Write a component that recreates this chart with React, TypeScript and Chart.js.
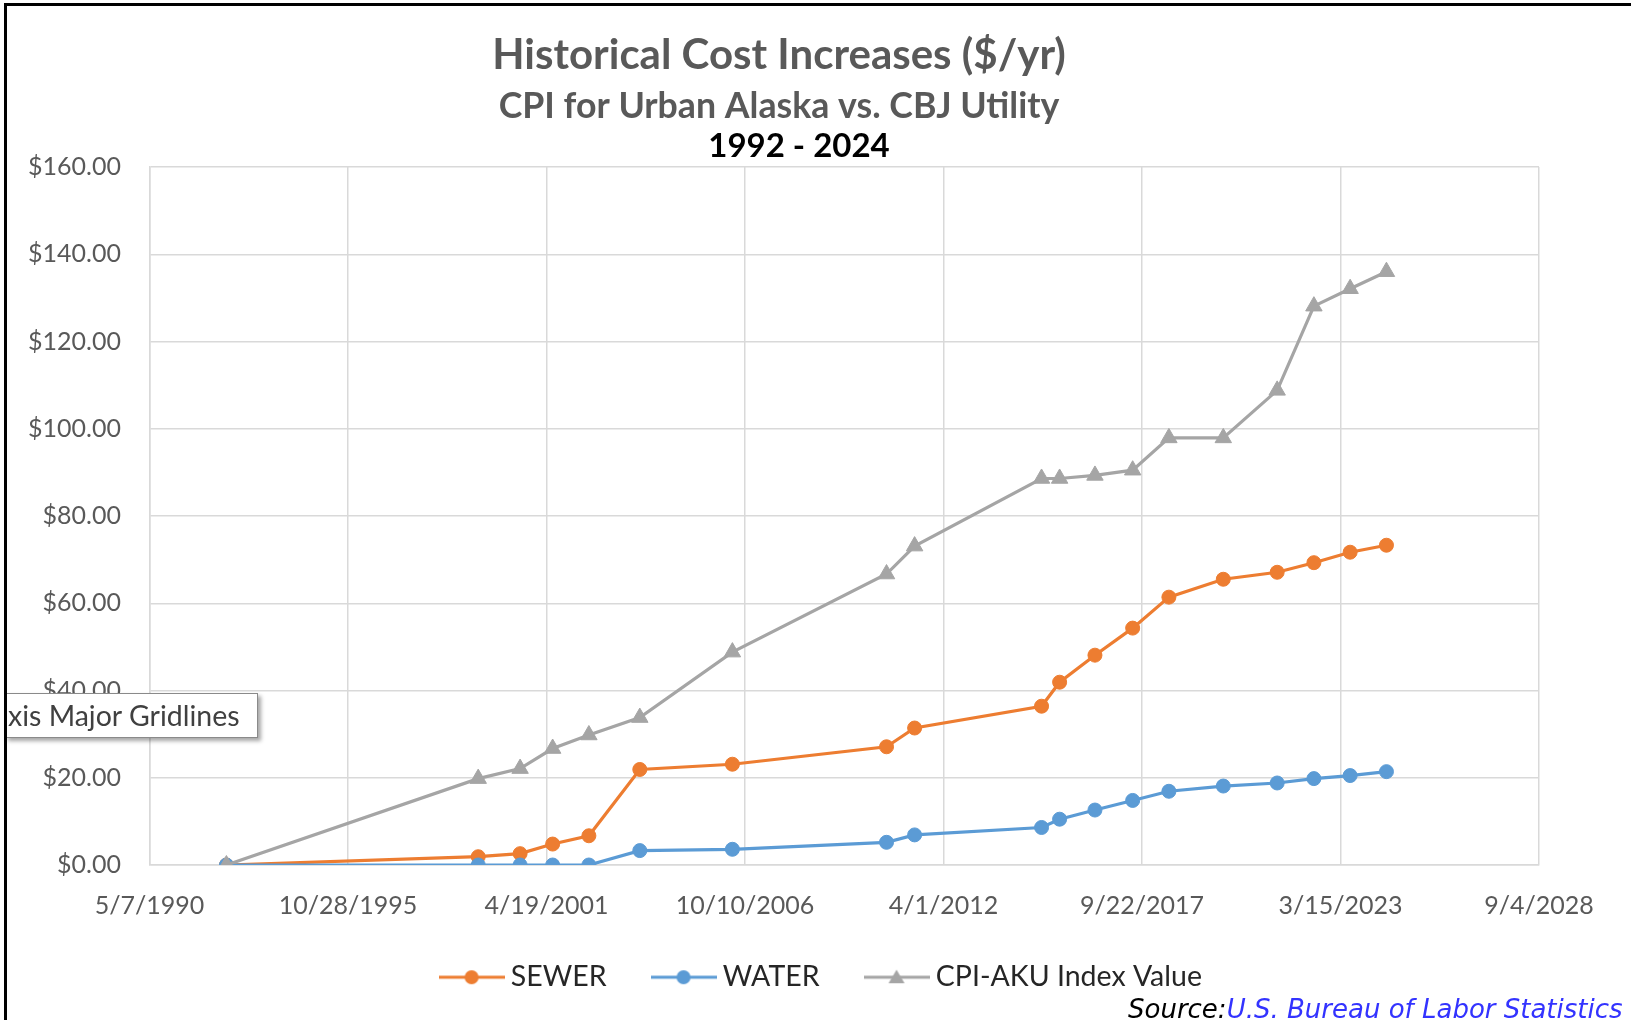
import React, { useEffect, useRef } from "react";
import { Chart, registerables } from "chart.js";

Chart.register(...registerables);

// ---- data ----
const dates = [
  "1992-06-20", "1999-06-01", "2000-07-27", "2001-06-20", "2002-06-20",
  "2003-11-15", "2006-06-05", "2010-09-05", "2011-06-15", "2014-12-15",
  "2015-06-15", "2016-06-05", "2017-06-20", "2018-06-20", "2019-12-20",
  "2021-06-15", "2022-06-20", "2023-06-20", "2024-06-20",
];
const sewer = [0, 1.9, 2.6, 4.8, 6.7, 21.9, 23.1, 27.1, 31.4, 36.4, 41.9, 48.1, 54.3, 61.4, 65.5, 67.1, 69.3, 71.7, 73.3];
const water = [0, 0, 0, 0, 0, 3.3, 3.6, 5.2, 6.9, 8.6, 10.5, 12.6, 14.8, 16.9, 18.1, 18.8, 19.8, 20.5, 21.4];
const cpi = [0, 19.8, 22.1, 26.7, 29.8, 33.8, 48.8, 66.7, 73.1, 88.6, 88.6, 89.3, 90.5, 97.9, 97.9, 108.8, 128.1, 132.1, 136.0];
const seriesNames = ["SEWER", "WATER", "CPI-AKU Index Value"];
const xAxisRange = { min: 33000, max: 47000, step: 2000 }; // Excel serial dates
const yAxisRange = { min: 0, max: 160, step: 20 };
const titleLines = ["Historical Cost Increases ($/yr)", "CPI for Urban Alaska vs. CBJ Utility", "1992 - 2024"];
const sourceLabel = "Source:";
const sourceText = "U.S. Bureau of Labor Statistics";
const hoverTip = "xis Major Gridlines";

const EXCEL_EPOCH = Date.UTC(1899, 11, 30);
function toSerial(s: string): number {
  const [y, m, d] = s.split("-").map(Number);
  return (Date.UTC(y, m - 1, d) - EXCEL_EPOCH) / 86400000;
}
function serialToLabel(v: number): string {
  const dt = new Date(EXCEL_EPOCH + v * 86400000);
  return `${dt.getUTCMonth() + 1}/${dt.getUTCDate()}/${dt.getUTCFullYear()}`;
}

const COLORS = ["#ED7D31", "#5B9BD5", "#A5A5A5"];
const STYLES = ["circle", "circle", "triangle"];

function makeIcon(color: string, style: string): HTMLCanvasElement {
  const c = document.createElement("canvas");
  c.width = 66;
  c.height = 20;
  const g = c.getContext("2d")!;
  g.strokeStyle = color;
  g.lineWidth = 3;
  g.beginPath();
  g.moveTo(0, 10);
  g.lineTo(66, 10);
  g.stroke();
  g.fillStyle = color;
  g.beginPath();
  if (style === "circle") {
    g.arc(33, 10, 7, 0, Math.PI * 2);
  } else {
    g.moveTo(33, 2.5);
    g.lineTo(41, 16);
    g.lineTo(25, 16);
    g.closePath();
  }
  g.fill();
  return c;
}

const textPlugin = {
  id: "excelTexts",
  afterDraw(chart: any) {
    const ctx = chart.ctx as CanvasRenderingContext2D;
    ctx.save();
    ctx.textAlign = "center";
    ctx.textBaseline = "middle";
    ctx.fillStyle = "#595959";
    ctx.font = "bold 42px Lato";
    ctx.fillText(titleLines[0], 779, 55);
    ctx.font = "bold 35.7px Lato";
    ctx.fillText(titleLines[1], 779, 106);
    ctx.fillStyle = "#000000";
    ctx.font = "bold 33px Lato";
    ctx.fillText(titleLines[2], 799, 146);
    ctx.textAlign = "left";
    ctx.font = 'italic 26px "DejaVu Sans"';
    ctx.fillStyle = "#000000";
    ctx.fillText(sourceLabel, 1128, 1011);
    const w = ctx.measureText(sourceLabel).width;
    ctx.fillStyle = "#3333FF";
    ctx.fillText(sourceText, 1128 + w, 1011);
    ctx.restore();
  },
};

// Excel centres its legend under the plot rather than the whole chart
const legendShiftPlugin = {
  id: "legendShift",
  afterLayout(chart: any) {
    const lg = chart.legend;
    if (lg) {
      lg.left += 50;
      lg.right += 50;
      lg.top -= 14;
      lg.bottom -= 14;
    }
  },
};

export default function App() {
  const ref = useRef<HTMLCanvasElement>(null);

  useEffect(() => {
    document.body.style.margin = "0";
    document.body.style.overflow = "hidden";
    const xs = dates.map(toSerial);
    const series = [sewer, water, cpi];
    const icons = COLORS.map((c, i) => makeIcon(c, STYLES[i]));
    const orders = [3, 2, 1];
    const chart = new Chart(ref.current!, {
      type: "line",
      data: {
        datasets: series.map((vals, i) => ({
          label: seriesNames[i],
          data: vals.map((v, j) => ({ x: xs[j], y: v })),
          borderColor: COLORS[i],
          backgroundColor: COLORS[i],
          borderWidth: 3.2,
          pointStyle: STYLES[i] as any,
          pointRadius: STYLES[i] === "triangle" ? 9.5 : 7,
          pointBorderWidth: 1,
          pointBorderColor: COLORS[i],
          pointBackgroundColor: COLORS[i],
          tension: 0,
          fill: false,
          order: orders[i],
        })),
      },
      plugins: [textPlugin, legendShiftPlugin],
      options: {
        animation: false,
        responsive: false,
        maintainAspectRatio: false,
        layout: { padding: { left: 9.5, right: 92, top: 167, bottom: 4.5 } },
        scales: {
          x: {
            type: "linear",
            min: xAxisRange.min,
            max: xAxisRange.max,
            afterFit: (s: any) => { s.height = 60; },
            afterBuildTicks: (s: any) => {
              const t = [];
              for (let v = xAxisRange.min; v <= xAxisRange.max; v += xAxisRange.step) t.push({ value: v });
              s.ticks = t;
            },
            ticks: {
              callback: (v: any) => serialToLabel(Number(v)),
              color: "#595959",
              font: { family: "Lato", size: 25 },
              padding: 26,
              maxRotation: 0,
              autoSkip: false,
            },
            grid: { color: "#D9D9D9", lineWidth: 1.5, drawTicks: false },
            border: { color: "#D9D9D9", width: 1.5 },
          },
          y: {
            min: yAxisRange.min,
            max: yAxisRange.max,
            afterFit: (s: any) => { s.width = 140; },
            ticks: {
              stepSize: yAxisRange.step,
              callback: (v: any) => "$" + Number(v).toFixed(2),
              color: "#595959",
              font: { family: "Lato", size: 25 },
              padding: 28.5,
            },
            grid: { color: "#D9D9D9", lineWidth: 1.5, drawTicks: false },
            border: { color: "#D9D9D9", width: 1.5 },
          },
        },
        plugins: {
          title: { display: false },
          tooltip: { enabled: false },
          legend: {
            display: true,
            position: "bottom",
            labels: {
              usePointStyle: true,
              pointStyleWidth: 50,
              padding: 52,
              color: "#262626",
              font: { family: "Lato", size: 28.5 },
              sort: (a: any, b: any) => a.datasetIndex - b.datasetIndex,
              generateLabels: (c: any) => {
                const items = (Chart.defaults.plugins.legend.labels as any).generateLabels(c);
                items.forEach((it: any) => {
                  it.pointStyle = icons[it.datasetIndex];
                });
                return items;
              },
            },
          },
        },
      },
    });
    return () => chart.destroy();
  }, []);

  return (
    <div style={{ position: "absolute", left: 0, top: 0, width: 1631, height: 1020, background: "#fff", overflow: "hidden" }}>
      <canvas ref={ref} width={1631} height={1020} style={{ position: "absolute", left: 0, top: 0, width: 1631, height: 1020 }} />
      <div
        style={{
          position: "absolute", left: 5, top: 693, width: 253, height: 45, boxSizing: "border-box",
          background: "#fff", border: "1px solid #8A8A8A", boxShadow: "3px 3px 4px rgba(0,0,0,0.35)",
          fontFamily: "Lato", fontSize: 28.5, color: "#404040", lineHeight: "42px", paddingLeft: 2,
          whiteSpace: "nowrap", overflow: "hidden",
        }}
      >
        {hoverTip}
      </div>
      <div
        style={{
          position: "absolute", left: 4, top: 3, width: 1627, height: 1017, boxSizing: "border-box",
          borderLeft: "3px solid #000", borderTop: "3px solid #000", pointerEvents: "none",
        }}
      />
    </div>
  );
}
